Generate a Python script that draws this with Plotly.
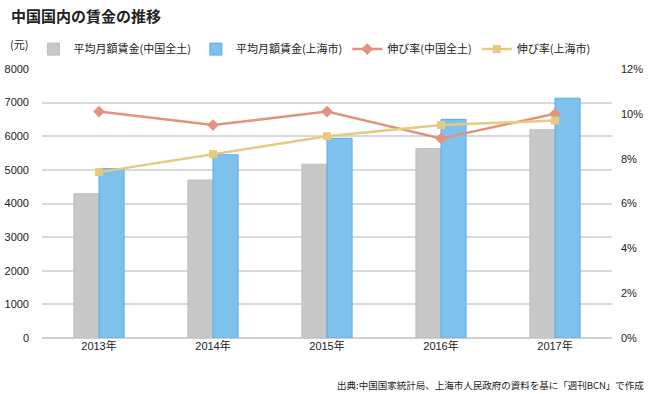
import plotly.graph_objects as go

years = ["2013年", "2014年", "2015年", "2016年", "2017年"]
wage_china = [4290, 4697, 5169, 5631, 6193]
wage_shanghai = [5036, 5451, 5939, 6504, 7132]
growth_china = [10.1, 9.5, 10.1, 8.9, 10.0]
growth_shanghai = [7.4, 8.2, 9.0, 9.5, 9.7]

FONT = "Liberation Sans, Arial, Noto Sans CJK JP, sans-serif"
JFONT = "Noto Sans CJK JP, sans-serif"

fig = go.Figure()
fig.add_trace(go.Bar(x=years, y=wage_china, name="平均月額賃金(中国全土)",
                     marker=dict(color="#C8C8C8", line=dict(color="#BDBDBD", width=1)),
                     offsetgroup="a"))
fig.add_trace(go.Bar(x=years, y=wage_shanghai, name="平均月額賃金(上海市)",
                     marker=dict(color="#7EC1ED", line=dict(color="#5AADE8", width=1)),
                     offsetgroup="b"))
fig.add_trace(go.Scatter(x=years, y=growth_china, name="伸び率(中国全土)", yaxis="y2",
                         mode="lines+markers",
                         line=dict(color="#E2937E", width=2.5),
                         marker=dict(symbol="diamond", size=9, color="#E2937E")))
fig.add_trace(go.Scatter(x=years, y=growth_shanghai, name="伸び率(上海市)", yaxis="y2",
                         mode="lines+markers",
                         line=dict(color="#E4CB80", width=2.5),
                         marker=dict(symbol="square", size=8, color="#E4CB80")))

fig.update_layout(
    width=650, height=394,
    margin=dict(l=42, r=38, t=69, b=56, autoexpand=False),
    paper_bgcolor="white", plot_bgcolor="white",
    font=dict(family=FONT, size=11, color="#222"),
    barmode="group", bargap=0.56, bargroupgap=0,
    showlegend=True,
    legend=dict(orientation="h", x=-0.015, xanchor="left", y=1.02, yanchor="bottom",
                font=dict(family=JFONT, size=11, color="#222"),
                itemwidth=30, traceorder="normal", borderwidth=0,
                bgcolor="rgba(0,0,0,0)"),
    xaxis=dict(showgrid=False, showline=False, ticks="", tickfont=dict(size=11),
               automargin=False, fixedrange=True),
    yaxis=dict(range=[0, 8000], dtick=1000, showgrid=True, gridcolor="#D9D9D9",
               gridwidth=1.5, zeroline=True, zerolinecolor="#D0D0D0", zerolinewidth=1.5,
               showline=False, ticks="", ticklabelstandoff=12, automargin=False,
               tickfont=dict(size=11), fixedrange=True),
    yaxis2=dict(range=[0, 12], dtick=2, overlaying="y", side="right",
                showgrid=False, zeroline=False, ticksuffix="%", showline=False,
                ticks="", ticklabelstandoff=8, automargin=False, tickfont=dict(size=11),
                fixedrange=True),
)

fig.add_annotation(text="<b>中国国内の賃金の推移</b>", xref="paper", yref="paper",
                   x=-0.058, y=1.0, xanchor="left", yanchor="top",
                   font=dict(family=JFONT, size=15, color="#222"),
                   showarrow=False, yshift=66)
fig.add_annotation(text="(元)", xref="paper", yref="paper",
                   x=-0.06, y=1.0, xanchor="left", yanchor="bottom",
                   font=dict(family=JFONT, size=11, color="#222"),
                   showarrow=False, yshift=15)
fig.add_annotation(text="出典:中国国家統計局、上海市人民政府の資料を基に「週刊BCN」で作成",
                   xref="paper", yref="paper", x=1.06, y=0, xanchor="right", yanchor="top",
                   font=dict(family=JFONT, size=9.5, color="#222"),
                   showarrow=False, yshift=-38)

fig.write_html("out.html", config={"displayModeBar": False},
               post_script="document.body.style.margin='0';document.body.style.overflow='hidden';")
